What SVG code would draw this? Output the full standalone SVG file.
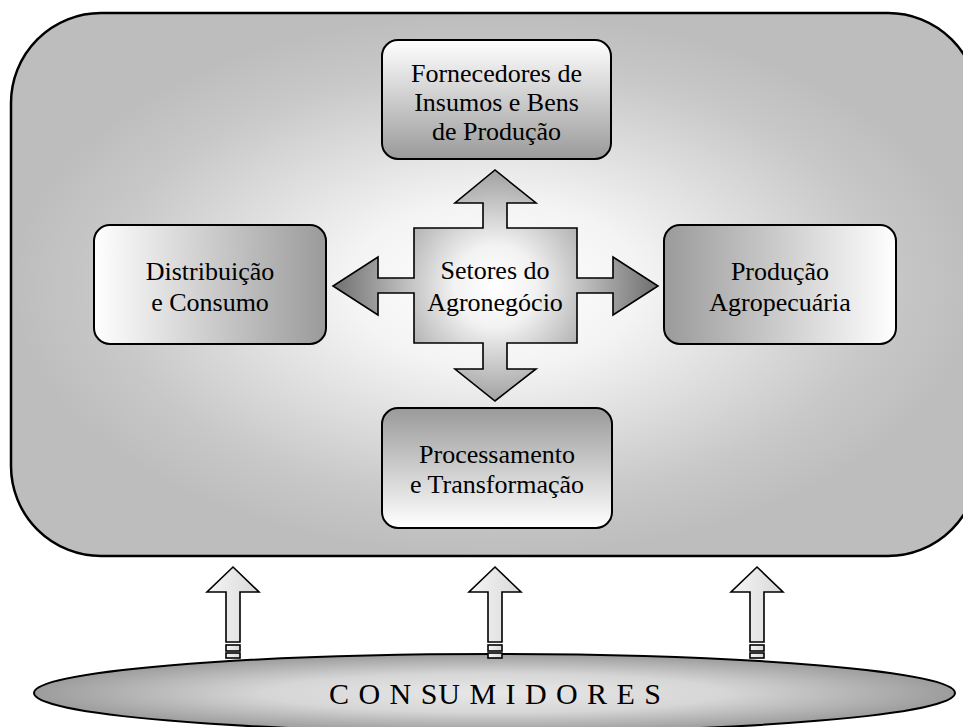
<svg xmlns="http://www.w3.org/2000/svg" width="963" height="727" viewBox="0 0 963 727">
<defs>
<radialGradient id="gBig" cx="0.5" cy="0.5" r="0.5">
<stop offset="0" stop-color="#ffffff"/>
<stop offset="0.3" stop-color="#f4f4f4"/>
<stop offset="0.8" stop-color="#c8c8c8"/>
<stop offset="1" stop-color="#bdbdbd"/>
</radialGradient>
<radialGradient id="gCross" gradientUnits="userSpaceOnUse" cx="495" cy="286" r="165">
<stop offset="0" stop-color="#ffffff"/>
<stop offset="0.25" stop-color="#f2f2f2"/>
<stop offset="1" stop-color="#6c6c6c"/>
</radialGradient>
<linearGradient id="gDown" x1="0" y1="0" x2="0" y2="1">
<stop offset="0" stop-color="#ffffff"/>
<stop offset="1" stop-color="#9a9a9a"/>
</linearGradient>
<linearGradient id="gUp" x1="0" y1="1" x2="0" y2="0">
<stop offset="0" stop-color="#ffffff"/>
<stop offset="1" stop-color="#9a9a9a"/>
</linearGradient>
<linearGradient id="gRight" x1="0" y1="0" x2="1" y2="0">
<stop offset="0" stop-color="#ffffff"/>
<stop offset="1" stop-color="#9a9a9a"/>
</linearGradient>
<linearGradient id="gLeft" x1="1" y1="0" x2="0" y2="0">
<stop offset="0" stop-color="#ffffff"/>
<stop offset="1" stop-color="#9a9a9a"/>
</linearGradient>
<linearGradient id="gArrow" x1="0" y1="0" x2="1" y2="0">
<stop offset="0" stop-color="#f6f6f6"/>
<stop offset="1" stop-color="#d8d8d8"/>
</linearGradient>
<radialGradient id="gEll" cx="0.5" cy="0.5" r="0.5">
<stop offset="0" stop-color="#e8e8e8"/>
<stop offset="0.5" stop-color="#d6d6d6"/>
<stop offset="1" stop-color="#9c9c9c"/>
</radialGradient>
</defs>
<style>
.box{stroke:#000;stroke-width:2}
.lbl{font-family:"Liberation Serif","Times New Roman",serif;font-size:26px;fill:#000;text-anchor:middle}
.arr{fill:url(#gArrow);stroke:#000;stroke-width:1.6;stroke-linejoin:miter}
</style>
<rect width="963" height="727" fill="#ffffff"/>

<g id="agronegocio-frame">
<rect x="11" y="13" width="967" height="543" rx="90" ry="90" fill="url(#gBig)" stroke="#000" stroke-width="2.5"/>
</g>

<g id="fornecedores">
<rect class="box" x="382" y="40" width="229" height="119" rx="16" fill="url(#gDown)"/>
<text class="lbl" x="496.5" y="82">Fornecedores de</text>
<text class="lbl" x="496.5" y="111">Insumos e Bens</text>
<text class="lbl" x="496.5" y="140">de Produção</text>
</g>

<g id="distribuicao">
<rect class="box" x="94" y="225" width="232" height="119" rx="16" fill="url(#gRight)"/>
<text class="lbl" x="210" y="280">Distribuição</text>
<text class="lbl" x="210" y="311">e Consumo</text>
</g>

<g id="producao">
<rect class="box" x="664" y="225" width="232" height="119" rx="16" fill="url(#gLeft)"/>
<text class="lbl" x="780" y="280">Produção</text>
<text class="lbl" x="780" y="311">Agropecuária</text>
</g>

<g id="processamento">
<rect class="box" x="382" y="408" width="230" height="120" rx="16" fill="url(#gUp)"/>
<text class="lbl" x="497" y="463">Processamento</text>
<text class="lbl" x="497" y="493">e Transformação</text>
</g>

<g id="setores">
<path d="M414,228 L483,228 L483,203 L455,203 L495,170 L536,203 L507,203 L507,228 L577,228 L577,278 L613,278 L613,257 L658,286 L613,315 L613,293 L577,293 L577,343 L507,343 L507,369 L536,369 L495,401 L455,369 L483,369 L483,343 L414,343 L414,293 L378,293 L378,315 L333,286 L378,257 L378,278 L414,278 Z" fill="url(#gCross)" stroke="#000" stroke-width="1.6" stroke-linejoin="miter"/>
<text class="lbl" x="495" y="279">Setores do</text>
<text class="lbl" x="495" y="311">Agronegócio</text>
</g>

<g id="consumidores">
<ellipse cx="494.5" cy="693" rx="460.5" ry="39" fill="url(#gEll)" stroke="#000" stroke-width="2"/>
<text x="495" y="704" font-family="'Liberation Serif','Times New Roman',serif" font-size="30" text-anchor="middle" textLength="332" lengthAdjust="spacing">C O N SU M I D O R E S</text>
</g>

<g id="connectors">
<g transform="translate(233,0)">
<path class="arr" d="M0,567 L26,592 L7,592 L7,642 L-7,642 L-7,592 L-26,592 Z"/>
<rect class="arr" x="-7" y="645" width="14" height="6"/>
<rect class="arr" x="-7" y="653" width="14" height="5"/>
</g>
<g transform="translate(495,0)">
<path class="arr" d="M0,567 L26,592 L7,592 L7,642 L-7,642 L-7,592 L-26,592 Z"/>
<rect class="arr" x="-7" y="645" width="14" height="6"/>
<rect class="arr" x="-7" y="653" width="14" height="5"/>
</g>
<g transform="translate(757,0)">
<path class="arr" d="M0,567 L26,592 L7,592 L7,642 L-7,642 L-7,592 L-26,592 Z"/>
<rect class="arr" x="-7" y="645" width="14" height="6"/>
<rect class="arr" x="-7" y="653" width="14" height="5"/>
</g>
</g>
</svg>
